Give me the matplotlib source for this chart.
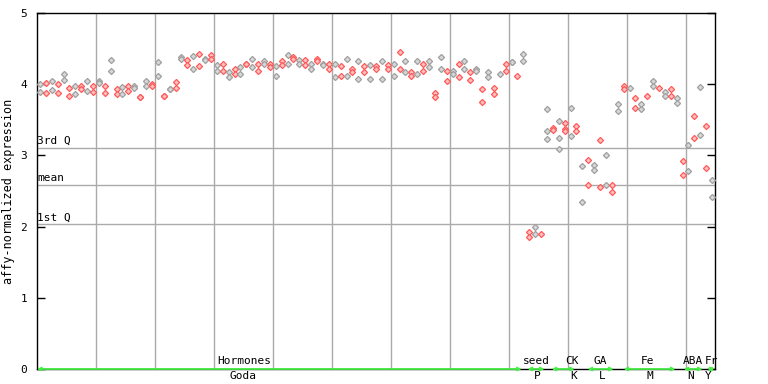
import matplotlib
matplotlib.use("Agg")
import matplotlib.pyplot as plt

# expression values per sample column (replicates stacked)
hormones = [
    [4.00, 3.89], [4.01, 3.87], [4.04, 3.92], [4.00, 3.87], [4.15, 4.06],
    [3.94, 3.84], [3.98, 3.86], [3.98, 3.93], [4.04, 3.90], [3.97, 3.89],
    [4.04, 4.01], [3.97, 3.87], [4.34, 4.18], [3.93, 3.86], [3.96, 3.86],
    [3.98, 3.91], [3.98, 3.94], [3.82, 3.82], [4.05, 3.98], [4.00, 3.97],
    [4.31, 4.12], [3.84, 3.84], [3.93, 3.93], [4.03, 3.94], [4.38, 4.35],
    [4.34, 4.27], [4.39, 4.21], [4.43, 4.25], [4.36, 4.34], [4.41, 4.35],
    [4.27, 4.19], [4.29, 4.19], [4.17, 4.10], [4.22, 4.15], [4.24, 4.14],
    [4.28, 4.28], [4.36, 4.24], [4.28, 4.19], [4.32, 4.29], [4.29, 4.24],
    [4.25, 4.11], [4.32, 4.27], [4.41, 4.29], [4.38, 4.35], [4.34, 4.28],
    [4.34, 4.27], [4.28, 4.22], [4.35, 4.32], [4.29, 4.27], [4.28, 4.21],
    [4.29, 4.10], [4.25, 4.12], [4.36, 4.11], [4.22, 4.17], [4.32, 4.08],
    [4.25, 4.17], [4.27, 4.08], [4.25, 4.21], [4.32, 4.07], [4.27, 4.22],
    [4.29, 4.12], [4.45, 4.22], [4.32, 4.17], [4.17, 4.11], [4.32, 4.15],
    [4.29, 4.19], [4.32, 4.24], [3.87, 3.82], [4.38, 4.21], [4.18, 4.04],
    [4.19, 4.14], [4.29, 4.10], [4.32, 4.22], [4.17, 4.06], [4.22, 4.19],
    [3.93, 3.75], [4.17, 4.10], [3.94, 3.86], [4.15], [4.28, 4.19],
    [4.31, 4.31], [4.11], [4.42, 4.33],
]
seed = [[1.93, 1.85], [2.00, 1.89], [1.89]]
ck = [[3.65, 3.34, 3.23], [3.39, 3.35], [3.48, 3.24, 3.09],
      [3.46, 3.37, 3.34], [3.66, 3.27], [3.41, 3.34]]
ga = [[2.85, 2.34], [2.93, 2.58], [2.86, 2.79], [3.21, 2.55],
      [3.01, 2.58], [2.58, 2.48]]
fe = [[3.72, 3.62], [3.98, 3.93], [3.94], [3.80, 3.66], [3.72, 3.65],
      [3.83], [4.04, 3.97], [3.94], [3.89, 3.84], [3.93, 3.83], [3.80, 3.73]]
aba = [[2.92, 2.73], [3.14, 2.78], [3.55, 3.24], [3.96, 3.28]]
fr = [[3.41, 2.82], [2.66, 2.41]]

groups = [hormones, seed, ck, ga, fe, aba, fr]
top_labels = ["Hormones", "seed", "CK", "GA", "Fe", "ABA", "Fr"]
bottom_labels = ["Goda", "P", "K", "L", "M", "N", "Y"]

q3, mean, q1 = 3.10, 2.58, 2.03

# layout bits (in sample index units)
top_pos = [34.7, 84.2, 90.2, 95.1, 103.0, 110.7, 113.9]
bot_pos = [34.4, 84.4, 90.5, 95.4, 103.4, 110.3, 113.4]
arrows = [(-0.5, 81.7), (82.7, 85.6), (86.8, 90.7), (92.9, 97.3),
          (99.0, 107.8), (109.2, 112.4), (113.2, 114.4)]

columns = [c for g in groups for c in g]
n = len(columns)

mono = "DejaVu Sans Mono"
fig = plt.figure(figsize=(7.68, 3.84), dpi=100)
ax = fig.add_axes([37 / 768, 15 / 384, 678 / 768, 356 / 384])

for xg in range(10, n, 10):
    ax.axvline(xg - 0.5, color="#aaaaaa", lw=1.0, zorder=1)
for yv, lab in [(q3, "3rd Q"), (mean, "mean"), (q1, "1st Q")]:
    ax.axhline(yv, color="#aaaaaa", lw=1.0, zorder=1)
    ax.text(-0.5, yv + 0.03, lab, family=mono, fontsize=8, ha="left", va="bottom")

for i, vals in enumerate(columns):
    if i % 2 == 1:
        ec, fc = "#ff5a5a", "#ffc0c0"
    else:
        ec, fc = "#a0a0a0", "#d8d8d8"
    ax.plot([i] * len(vals), vals, ls="none", marker="D", ms=3.1,
            mec=ec, mfc=fc, mew=0.9, zorder=3)

for (a, b) in arrows:
    ax.annotate("", xy=(b, 0), xytext=(a, 0),
                arrowprops=dict(arrowstyle="<->", color="#44ee44", lw=1.3,
                                shrinkA=0, shrinkB=0, mutation_scale=5),
                annotation_clip=False, zorder=4)
for x, lab in zip(top_pos, top_labels):
    ax.text(x, 0.04, lab, family=mono, fontsize=8, ha="center", va="bottom")
for x, lab in zip(bot_pos, bottom_labels):
    ax.text(x, -0.03, lab, family=mono, fontsize=8, ha="center", va="top")

ax.set_xlim(-0.5, n - 0.5)
ax.set_ylim(0, 5)
ax.set_xticks([])
ax.set_yticks(range(6))
ax.tick_params(axis="y", direction="in", length=6, width=1, pad=7,
               right=True, labelsize=8)
for lbl in ax.get_yticklabels():
    lbl.set_family(mono)
for s in ax.spines.values():
    s.set_color("black")
    s.set_linewidth(1.0)
ax.set_ylabel("affy-normalized expression", family=mono, fontsize=8.5, labelpad=4)

fig.savefig("out.png", dpi=100)
